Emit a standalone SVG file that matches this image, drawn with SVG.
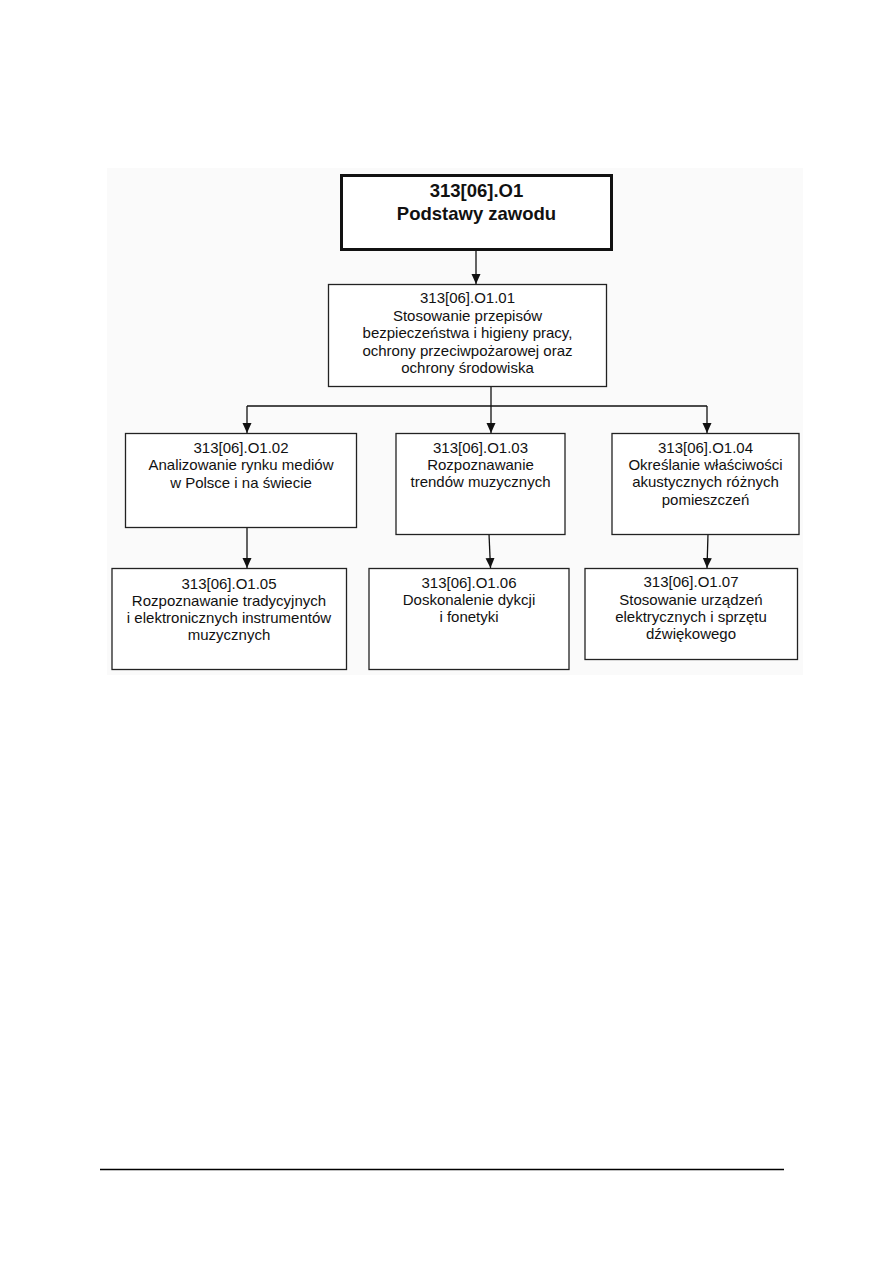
<svg xmlns="http://www.w3.org/2000/svg" width="893" height="1263" viewBox="0 0 893 1263">
<defs>
<marker id="ah" markerUnits="userSpaceOnUse" markerWidth="10" markerHeight="10" viewBox="0 0 10 10" refX="10" refY="5" orient="auto">
<path d="M0,0.5 L10,5 L0,9.5 z" fill="#111"/>
</marker>
<style>
.box{fill:#fff;stroke:#222;stroke-width:1.3}
.top{fill:#fff;stroke:#111;stroke-width:3}
.t{font-family:"Liberation Sans",Arial,sans-serif;font-size:15px;fill:#111;text-anchor:middle}
.tt{font-family:"Liberation Sans",Arial,sans-serif;font-size:18.5px;font-weight:bold;fill:#111;text-anchor:middle}
.c{fill:none;stroke:#111;stroke-width:1.3}
.a{marker-end:url(#ah)}
</style>
</defs>
<rect width="893" height="1263" fill="#fff"/>
<rect x="107" y="168" width="696" height="507" fill="#fafafa"/>
<g id="connectors">
<line class="c a" x1="476" y1="251" x2="476" y2="284"/>
<line class="c" x1="491" y1="387" x2="491" y2="406"/>
<line class="c" x1="247" y1="406" x2="707" y2="406"/>
<line class="c a" x1="247" y1="406" x2="247" y2="433"/>
<line class="c a" x1="491" y1="406" x2="491" y2="433"/>
<line class="c a" x1="707" y1="406" x2="707" y2="433"/>
<line class="c a" x1="247" y1="528" x2="247" y2="568"/>
<line class="c a" x1="489" y1="534" x2="490.5" y2="568"/>
<line class="c a" x1="708" y1="534" x2="707" y2="568"/>
</g>
<g id="n0">
<rect class="top" x="341.5" y="175.5" width="270" height="74"/>
<text class="tt" x="476.5" y="197">313[06].O1</text>
<text class="tt" x="476.5" y="220">Podstawy zawodu</text>
</g>
<g id="n01">
<rect class="box" x="328.5" y="284.5" width="278" height="102"/>
<text class="t" x="467.5" y="303">313[06].O1.01</text>
<text class="t" x="467.5" y="320.5">Stosowanie przepisów</text>
<text class="t" x="467.5" y="338">bezpieczeństwa i higieny pracy,</text>
<text class="t" x="467.5" y="355.5">ochrony przeciwpożarowej oraz</text>
<text class="t" x="467.5" y="373">ochrony środowiska</text>
</g>
<g id="n02">
<rect class="box" x="125.5" y="433.5" width="231" height="94"/>
<text class="t" x="241" y="453">313[06].O1.02</text>
<text class="t" x="241" y="470">Analizowanie rynku mediów</text>
<text class="t" x="241" y="487.5">w Polsce i na świecie</text>
</g>
<g id="n03">
<rect class="box" x="396" y="433.5" width="169" height="101"/>
<text class="t" x="480.5" y="452.5">313[06].O1.03</text>
<text class="t" x="480.5" y="469.5">Rozpoznawanie</text>
<text class="t" x="480.5" y="487">trendów muzycznych</text>
</g>
<g id="n04">
<rect class="box" x="612" y="433.5" width="187" height="101"/>
<text class="t" x="705.5" y="452.5">313[06].O1.04</text>
<text class="t" x="705.5" y="469.5">Określanie właściwości</text>
<text class="t" x="705.5" y="487">akustycznych różnych</text>
<text class="t" x="705.5" y="504.5">pomieszczeń</text>
</g>
<g id="n05">
<rect class="box" x="112" y="568.5" width="234.5" height="101"/>
<text class="t" x="229" y="588.5">313[06].O1.05</text>
<text class="t" x="229" y="605.5">Rozpoznawanie tradycyjnych</text>
<text class="t" x="229" y="622.5">i elektronicznych instrumentów</text>
<text class="t" x="229" y="640">muzycznych</text>
</g>
<g id="n06">
<rect class="box" x="369" y="568.5" width="200" height="101"/>
<text class="t" x="469" y="588">313[06].O1.06</text>
<text class="t" x="469" y="605">Doskonalenie dykcji</text>
<text class="t" x="469" y="622">i fonetyki</text>
</g>
<g id="n07">
<rect class="box" x="585" y="568.5" width="212.5" height="91"/>
<text class="t" x="691" y="587">313[06].O1.07</text>
<text class="t" x="691" y="604.5">Stosowanie urządzeń</text>
<text class="t" x="691" y="621.5">elektrycznych i sprzętu</text>
<text class="t" x="691" y="638.5">dźwiękowego</text>
</g>
<line x1="100" y1="1169.5" x2="784" y2="1169.5" stroke="#000" stroke-width="1.5"/>
</svg>
